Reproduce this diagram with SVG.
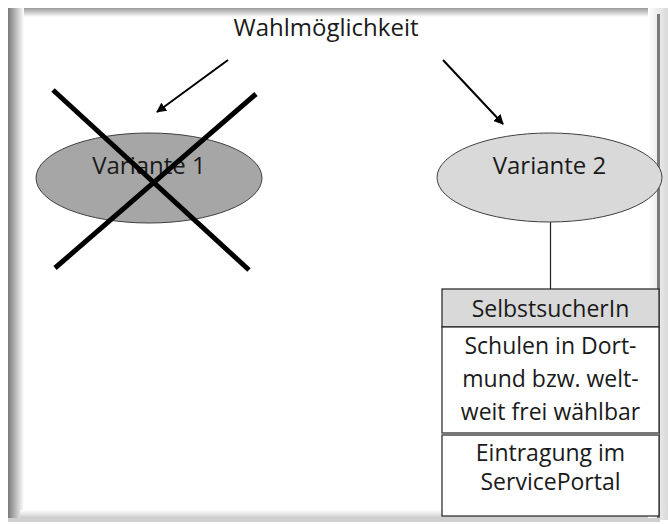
<svg xmlns="http://www.w3.org/2000/svg" width="668" height="524" viewBox="0 0 668 524">
<defs>
  <linearGradient id="gTop" x1="0" y1="0" x2="0" y2="1"><stop offset="0" stop-color="#9a9a9a"/><stop offset="1" stop-color="#ffffff"/></linearGradient>
  <linearGradient id="gLeft" x1="0" y1="0" x2="1" y2="0"><stop offset="0" stop-color="#7a7a7a"/><stop offset="1" stop-color="#ffffff"/></linearGradient>
  <linearGradient id="gRight" x1="0" y1="0" x2="1" y2="0"><stop offset="0" stop-color="#ffffff"/><stop offset="1" stop-color="#d8d8d8"/></linearGradient>
  <linearGradient id="gBottom" x1="0" y1="0" x2="0" y2="1"><stop offset="0" stop-color="#ffffff"/><stop offset="1" stop-color="#bdbdbd"/></linearGradient>
  <marker id="arr" viewBox="0 0 10 10" refX="9" refY="5" markerWidth="5" markerHeight="5" orient="auto" markerUnits="strokeWidth">
    <path d="M0,0 L10,5 L0,10 Z" fill="#000"/>
  </marker>
  <style>
    text{font-family:"Open Sans","Noto Sans","Liberation Sans",sans-serif;fill:#1a1a1a;text-anchor:middle}
    .t{font-size:24px}
    .b{font-size:23px}
    .conn{stroke:#000;stroke-width:2;fill:none}
    .cross{stroke:#000;stroke-width:5;stroke-linecap:butt}
    .box{stroke:#222;stroke-width:1.2}
  </style>
</defs>
<rect width="668" height="524" fill="#fff"/>
<g id="frame">
  <rect x="8" y="8" width="652" height="9" fill="url(#gTop)"/>
  <rect x="8" y="8" width="16" height="512" fill="url(#gLeft)"/>
  <rect x="20" y="510" width="640" height="10" fill="url(#gBottom)"/>
  <rect x="648" y="8" width="20" height="512" fill="url(#gRight)"/>
  <rect x="657" y="14" width="3" height="504" fill="#7a7a7a"/>
  <rect x="8" y="518" width="652" height="4" fill="#d0d0d0"/>
</g>
<g id="title"><text class="t" x="326" y="36">Wahlmöglichkeit</text></g>
<g id="connectors">
  <line class="conn" x1="228" y1="60" x2="157" y2="112" marker-end="url(#arr)"/>
  <line class="conn" x1="443" y1="60" x2="503" y2="124" marker-end="url(#arr)"/>
  <line stroke="#222" stroke-width="1.2" x1="550.5" y1="222" x2="550.5" y2="289"/>
</g>
<g id="variante1">
  <ellipse cx="149" cy="178" rx="113" ry="45" fill="#a6a6a6" stroke="#404040" stroke-width="1"/>
  <text class="t" x="149" y="174">Variante 1</text>
</g>
<g id="cross">
  <line class="cross" x1="53" y1="90" x2="249" y2="270"/>
  <line class="cross" x1="256" y1="94" x2="55" y2="268"/>
</g>
<g id="variante2">
  <ellipse cx="549.5" cy="177.5" rx="112.5" ry="44.5" fill="#d9d9d9" stroke="#404040" stroke-width="1"/>
  <text class="t" x="549.5" y="174">Variante 2</text>
</g>
<g id="selbstsucherin">
  <rect class="box" x="442" y="289" width="217" height="38" fill="#d9d9d9"/>
  <text class="b" x="550.5" y="317">SelbstsucherIn</text>
</g>
<g id="schulen">
  <rect class="box" x="442" y="327" width="217" height="106" fill="#fff"/>
  <text class="b" x="550.5" y="354">Schulen in Dort-</text>
  <text class="b" x="550.5" y="387">mund bzw. welt-</text>
  <text class="b" x="550.5" y="420">weit frei wählbar</text>
</g>
<g id="eintragung">
  <rect class="box" x="442" y="435" width="217" height="81" fill="#fff"/>
  <line x1="442" y1="434" x2="659" y2="434" stroke="#777" stroke-width="3"/>
  <text class="b" x="550.5" y="461">Eintragung im</text>
  <text class="b" x="550.5" y="490">ServicePortal</text>
</g>
</svg>
